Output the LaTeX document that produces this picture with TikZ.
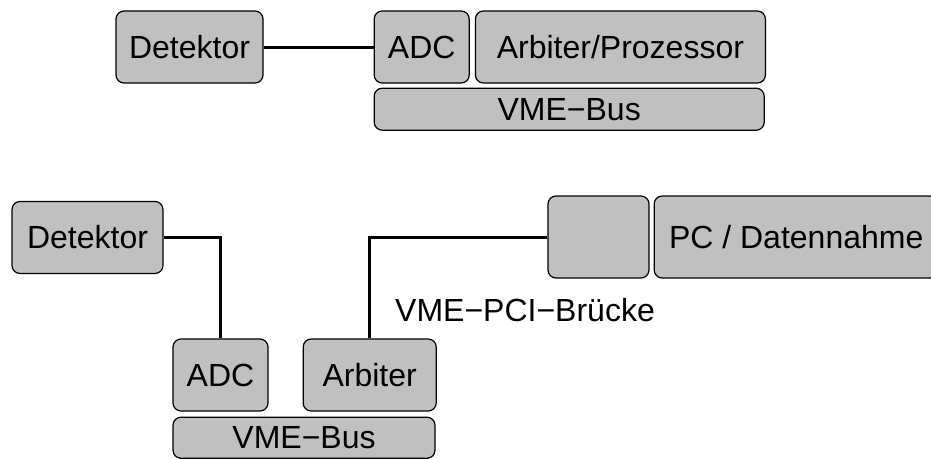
\documentclass[tikz,border=0pt]{standalone}
\usepackage{fontspec}
\setmainfont{Liberation Sans}
\usetikzlibrary{positioning}
\definecolor{boxgray}{RGB}{192,192,192}

\begin{document}
\begin{tikzpicture}[
  x=1pt, y=-1pt,
  node distance=5pt,
  box/.style={draw, fill=boxgray, rounded corners=8pt, line width=1.2pt, inner sep=0pt, minimum height=72pt, font=\fontsize{32}{38}\selectfont},
  bus/.style={box, minimum height=42pt},
  wire/.style={line width=3pt}
]
\useasboundingbox (0,0) rectangle (931,458);

% one crate: ADC and processor on the VME bus
\node[box, minimum width=147pt] (det1) at (189.5,47) {Detektor};
\node[box, minimum width=95pt, right=110pt of det1] (adc1) {ADC};
\node[box, minimum width=290pt, right=of adc1] (arb1) {Arbiter/Prozessor};
\node[bus, minimum width=390pt, anchor=north west] (bus1) at ([yshift=-4pt]adc1.south west) {VME−Bus};

% crate read out by a PC over the bridge
\node[box, minimum width=151pt] (det2) at (87.5,237.5) {Detektor};
\node[box, minimum width=95pt] (adc2) at (220.5,375) {ADC};
\node[box, minimum width=133pt, right=34pt of adc2] (arb2) {Arbiter};
\node[bus, minimum width=262pt, minimum height=41pt, anchor=north west] (bus2) at ([yshift=-5pt]adc2.south west) {VME−Bus};
\node[box, minimum width=101pt, minimum height=82pt] (bridge) at (598.5,237) {};
\node[box, minimum width=284pt, minimum height=82pt, right=4pt of bridge] (pc) {PC / Datennahme};
\node[font=\fontsize{32}{38}\selectfont] (bridgelbl) at (525,310) {VME−PCI−Brücke};

\draw[wire] (det1) -- (adc1);
\draw[wire] (det2.east) -| (adc2.north);
\draw[wire] (arb2.north) |- (bridge.west);

\end{tikzpicture}
\end{document}
